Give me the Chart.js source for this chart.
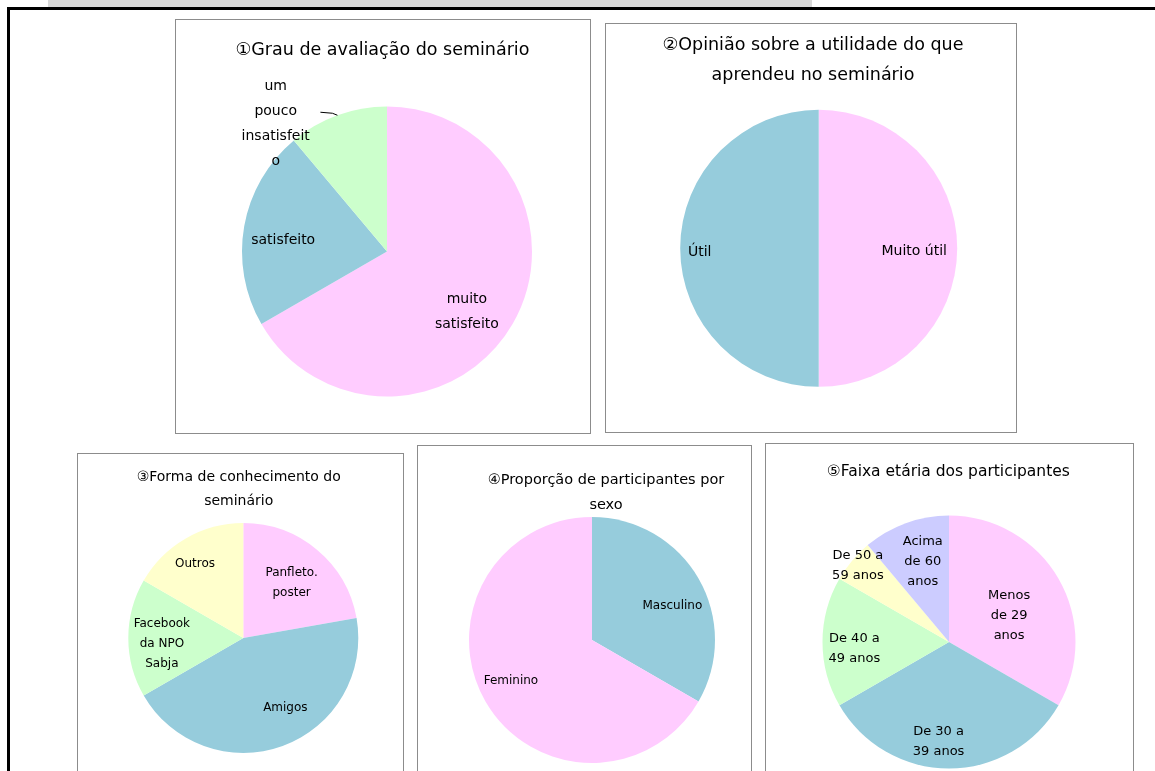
<!DOCTYPE html>
<html>
<head>
<meta charset="utf-8">
<script src="https://cdn.jsdelivr.net/npm/chart.js@4/dist/chart.umd.min.js"></script>
<style>
  body { margin: 0; background: #fff; width: 1155px; height: 771px; overflow: hidden; position: relative; }
  .topbar { position: absolute; left: 48px; top: 0; width: 764px; height: 7px; background: #d9d9d9; }
  .frame { position: absolute; left: 7px; top: 7px; width: 1200px; height: 820px; border: 3px solid #000; }
  .box { position: absolute; border: 1px solid #8c8c8c; background: #fff; }
  .box canvas { position: absolute; left: 0; top: 0; }
</style>
</head>
<body>
<div class="topbar"></div>
<div class="frame"></div>
<div class="box" id="b1"><canvas id="c1"></canvas></div>
<div class="box" id="b2"><canvas id="c2"></canvas></div>
<div class="box" id="b3"><canvas id="c3"></canvas></div>
<div class="box" id="b4"><canvas id="c4"></canvas></div>
<div class="box" id="b5"><canvas id="c5"></canvas></div>
<script>
// data
const grauLabels = ['muito satisfeito', 'satisfeito', 'um pouco insatisfeito'];
const grauValues = [6, 2, 1];

const utilLabels = ['Muito útil', 'Útil'];
const utilValues = [1, 1];

const formaLabels = ['Panfleto. poster', 'Amigos', 'Facebook da NPO Sabja', 'Outros'];
const formaValues = [4, 8, 3, 3];

const sexoLabels = ['Masculino', 'Feminino'];
const sexoValues = [1, 2];

const idadeLabels = ['Menos de 29 anos', 'De 30 a 39 anos', 'De 40 a 49 anos', 'De 50 a 59 anos', 'Acima de 60 anos'];
const idadeValues = [6, 6, 3, 1, 2];

const PINK = '#FFCCFF', BLUE = '#96CCDC', GREEN = '#CCFFCC', YELLOW = '#FFFFCC', PURPLE = '#CCCCFF';
const FONT = '"DejaVu Sans", Verdana, sans-serif';

// title drawn by hand so it can sit off the pie's centre like the original
const titlePlugin = {
  id: 'boxTitle',
  afterDraw(chart, args, o) {
    const ctx = chart.ctx;
    ctx.save();
    ctx.font = o.size + 'px ' + FONT;
    ctx.fillStyle = '#000';
    ctx.textAlign = 'center';
    ctx.textBaseline = 'middle';
    o.lines.forEach((t, i) => ctx.fillText(t, o.x, o.y + i * o.lineHeight));
    ctx.restore();
  }
};

// slice labels, placed from each arc's own angles
const labelPlugin = {
  id: 'sliceLabels',
  afterDatasetsDraw(chart, args, o) {
    const ctx = chart.ctx;
    const arcs = chart.getDatasetMeta(0).data;
    ctx.save();
    ctx.font = o.size + 'px ' + FONT;
    ctx.fillStyle = '#000';
    ctx.strokeStyle = '#000';
    ctx.lineWidth = 1;
    ctx.textAlign = 'center';
    ctx.textBaseline = 'middle';
    arcs.forEach((arc, i) => {
      const p = arc.getProps(['x', 'y', 'startAngle', 'endAngle', 'outerRadius'], true);
      const mid = (p.startAngle + p.endAngle) / 2;
      const a = mid + o.place[i][0] * Math.PI / 180;
      const x = p.x + Math.cos(a) * p.outerRadius * o.place[i][1];
      const y = p.y + Math.sin(a) * p.outerRadius * o.place[i][1];
      const lines = o.lines[i];
      lines.forEach((t, j) => ctx.fillText(t, x, y + (j - (lines.length - 1) / 2) * o.lineHeight));
      if (o.leader === i) {
        const ex = p.x + Math.cos(mid) * p.outerRadius;
        const ey = p.y + Math.sin(mid) * p.outerRadius;
        ctx.beginPath();
        ctx.moveTo(ex, ey);
        ctx.lineTo(ex - 5, ey - 2);
        ctx.lineTo(ex - 17, ey - 3);
        ctx.stroke();
      }
    });
    ctx.restore();
  }
};

function makePie(n, box, pie, labels, values, colors, title, lab) {
  const boxEl = document.getElementById('b' + n);
  const W = box.r - box.l - 1, H = box.b - box.t - 1;
  Object.assign(boxEl.style, { left: box.l + 'px', top: box.t + 'px', width: W + 'px', height: H + 'px' });
  const cv = document.getElementById('c' + n);
  cv.width = W; cv.height = H;
  const ox = box.l + 1, oy = box.t + 1;
  new Chart(cv.getContext('2d'), {
    type: 'pie',
    data: {
      labels: labels,
      datasets: [{ data: values, backgroundColor: colors, borderWidth: 0 }]
    },
    options: {
      responsive: false,
      animation: false,
      layout: {
        padding: {
          left: pie.cx - pie.r - ox,
          top: pie.cy - pie.r - oy,
          right: W - (pie.cx + pie.r - ox),
          bottom: H - (pie.cy + pie.r - oy)
        }
      },
      plugins: {
        legend: { display: false },
        tooltip: { enabled: false },
        boxTitle: { lines: title.lines, x: title.x - ox, y: title.y - oy, size: title.size, lineHeight: title.lh },
        sliceLabels: lab
      }
    },
    plugins: [titlePlugin, labelPlugin]
  });
}

makePie(1, { l: 175, t: 19, r: 590, b: 433 }, { cx: 387, cy: 251.5, r: 145 },
  grauLabels, grauValues, [PINK, BLUE, GREEN],
  { lines: ['①Grau de avaliação do seminário'], x: 382.5, y: 50.5, size: 17.5, lh: 30 },
  { size: 14, lineHeight: 25, leader: 2,
    lines: [['muito', 'satisfeito'], ['satisfeito'], ['um', 'pouco', 'insatisfeit', 'o']],
    place: [[7, 0.69], [-4, 0.72], [-21, 1.17]] });

makePie(2, { l: 605, t: 23, r: 1016, b: 432 }, { cx: 818.7, cy: 248.3, r: 138.5 },
  utilLabels, utilValues, [PINK, BLUE],
  { lines: ['②Opinião sobre a utilidade do que', 'aprendeu no seminário'], x: 813, y: 45, size: 17.5, lh: 30 },
  { size: 14, lineHeight: 25,
    lines: [['Muito útil'], ['Útil']],
    place: [[2, 0.69], [-2, 0.86]] });

makePie(3, { l: 77, t: 453, r: 403, b: 800 }, { cx: 243.3, cy: 638, r: 115 },
  formaLabels, formaValues, [PINK, BLUE, GREEN, YELLOW],
  { lines: ['③Forma de conhecimento do', 'seminário'], x: 238.7, y: 477.7, size: 14, lh: 24 },
  { size: 12, lineHeight: 20,
    lines: [['Panfleto.', 'poster'], ['Amigos'], ['Facebook', 'da NPO', 'Sabja'], ['Outros']],
    place: [[1, 0.64], [-11, 0.71], [-4, 0.71], [-3, 0.77]] });

makePie(4, { l: 417, t: 445, r: 751, b: 800 }, { cx: 592, cy: 640, r: 123 },
  sexoLabels, sexoValues, [BLUE, PINK],
  { lines: ['④Proporção de participantes por', 'sexo'], x: 606, y: 480.7, size: 14.5, lh: 24.5 },
  { size: 12, lineHeight: 20,
    lines: [['Masculino'], ['Feminino']],
    place: [[7, 0.71], [3, 0.74]] });

makePie(5, { l: 765, t: 443, r: 1133, b: 800 }, { cx: 949, cy: 642, r: 126.5 },
  idadeLabels, idadeValues, [PINK, BLUE, GREEN, YELLOW, PURPLE],
  { lines: ['⑤Faixa etária dos participantes'], x: 948.3, y: 471.7, size: 15.5, lh: 24 },
  { size: 13, lineHeight: 20,
    lines: [['Menos', 'de 29', 'anos'], ['De 30 a', '39 anos'], ['De 40 a', '49 anos'], ['De 50 a', '59 anos'], ['Acima', 'de 60', 'anos']],
    place: [[6, 0.52], [6, 0.79], [-4, 0.75], [0, 0.94], [2, 0.67]] });
</script>
</body>
</html>
